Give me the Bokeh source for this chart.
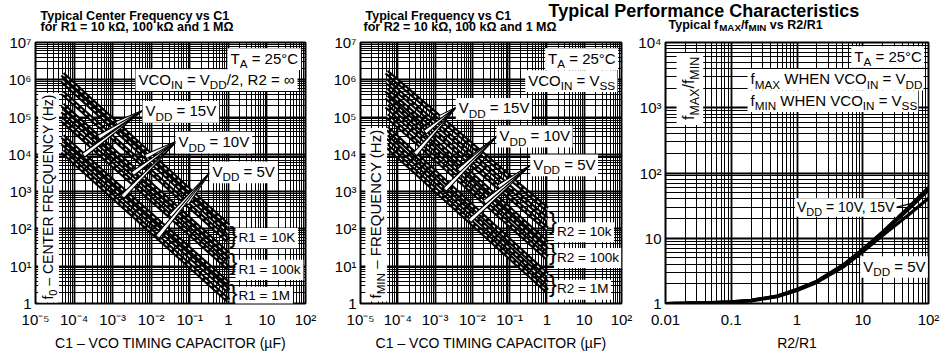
import math
import numpy as np
from bokeh.plotting import figure
from bokeh.models import Label, BoxAnnotation, FixedTicker, CustomJSTickFormatter, Range1d
from bokeh.layouts import row, column
from bokeh.embed import file_html
from bokeh.resources import INLINE

# ---------------------------------------------------------------- data
vdd_series = ["15V", "10V", "5V"]
c1_uF = [5e-5, 1.0]                      # C1 at start / end of each curve

# Panel 1: f0 (Hz) at C1 = 5e-5 uF and 1 uF ; rows = VDD 15 V, 10 V, 5 V
f0_R1_10k = [[1.4e6, 120], [9.5e5, 80], [4.5e5, 48]]
f0_R1_100k = [[2.1e5, 21], [1.45e5, 15], [8.3e4, 9]]
f0_R1_1M = [[3.0e4, 3.4], [2.0e4, 2.2], [1.2e4, 1.2]]

# Panel 2: fMIN (Hz) at C1 = 5e-5 uF and 1 uF ; rows = VDD 15 V, 10 V, 5 V
fmin_R2_10k = [[1.6e6, 340], [9.0e5, 180], [5.2e5, 100]]
fmin_R2_100k = [[3.4e5, 42], [1.95e5, 28], [1.1e5, 17]]
fmin_R2_1M = [[5.1e4, 5.9], [3.0e4, 3.6], [1.7e4, 2.2]]

# Panel 3: fMAX/fMIN vs R2/R1
r2_over_r1 = [0.01, 0.02, 0.05, 0.1, 0.2, 0.5, 1, 2, 5, 10, 20, 50, 100]
fratio_15V = [1.0, 1.01, 1.03, 1.06, 1.12, 1.3, 1.65, 2.2, 3.9, 6.8, 12.5, 30, 60]
fratio_10V = [1.0, 1.01, 1.03, 1.06, 1.12, 1.3, 1.62, 2.15, 3.8, 6.6, 12, 28, 55]
fratio_5V = [1.0, 1.01, 1.02, 1.05, 1.1, 1.27, 1.58, 2.1, 3.6, 6.2, 11, 23, 41]

# tick labels
c1_ticks = [1e-5, 1e-4, 1e-3, 1e-2, 1e-1, 1, 10, 100]
c1_tick_labels = ["10⁻⁵", "10⁻⁴", "10⁻³", "10⁻²", "10⁻¹", "1", "10", "10²"]
f_ticks = [1, 10, 1e2, 1e3, 1e4, 1e5, 1e6, 1e7]
f_tick_labels = ["1", "10¹", "10²", "10³", "10⁴", "10⁵", "10⁶", "10⁷"]
r_ticks = [0.01, 0.1, 1, 10, 100]
r_tick_labels = ["0.01", "0.1", "1", "10", "10²"]
ratio_ticks = [1, 10, 100, 1000, 10000]
ratio_tick_labels = ["1", "10", "10²", "10³", "10⁴"]

# ---------------------------------------------------------------- geometry / helpers
FONT = "Liberation Sans"
FIX = 0.27          # baseline correction (em) for alphabetic-anchored labels

RANGES = {1: ((-5, 2), (0, 7)), 2: ((-5, 2), (0, 7)), 3: ((-2, 2), (0, 4))}
FRAME = {1: (35, 305, 40, 303), 2: (358, 621, 42, 305), 3: (662, 928, 42, 308)}
FIG = {1: (0, 330), 2: (330, 305), 3: (635, 307)}
STRIP_H = 33
ROW_BOTTOM = 353
FIG_H = ROW_BOTTOM - STRIP_H

W_REG = {' ': 278, '=': 584, '/': 278, ',': 278, '.': 278, '(': 333, ')': 333, '°': 400,
         '∞': 713, '–': 556, '}': 334, 'µ': 556, 'Ω': 768,
         'A': 667, 'B': 667, 'C': 722, 'D': 722, 'E': 667, 'F': 611, 'G': 778, 'H': 722,
         'I': 278, 'J': 500, 'K': 667, 'L': 556, 'M': 833, 'N': 722, 'O': 778, 'P': 667,
         'Q': 778, 'R': 722, 'S': 667, 'T': 611, 'U': 722, 'V': 667, 'W': 944, 'X': 667,
         'Y': 667, 'Z': 611, 'a': 556, 'b': 556, 'c': 500, 'd': 556, 'e': 556, 'f': 278,
         'g': 556, 'h': 556, 'i': 222, 'j': 222, 'k': 500, 'l': 222, 'm': 833, 'n': 556,
         'o': 556, 'p': 556, 'q': 556, 'r': 333, 's': 500, 't': 278, 'u': 556, 'v': 500,
         'w': 722, 'x': 500, 'y': 500, 'z': 500}
W_BOLD = {' ': 278, '=': 584, '/': 278, ',': 278, 'Ω': 768, 'A': 722, 'C': 722, 'F': 611,
          'M': 833, 'R': 722, 'T': 611, 'X': 667, 'I': 278, 'N': 722, 'P': 667,
          'a': 556, 'c': 556, 'd': 611, 'e': 556, 'f': 333, 'h': 611, 'i': 278, 'k': 556,
          'l': 278, 'm': 889, 'n': 611, 'o': 611, 'p': 611, 'q': 611, 'r': 389, 's': 556,
          't': 333, 'u': 611, 'v': 556, 'y': 556}


def tw(s, size, bold=False):
    tbl = W_BOLD if bold else W_REG
    return sum(tbl.get(ch, 556) for ch in s) * size / 1000.0


def layout_pieces(pieces, size, bold=False, drop_em=0.3):
    """Split rich pieces into (text, font size, drop, offset); spaces become offsets."""
    items = []
    off = 0.0
    for text, kind in pieces:
        sub = kind == "s"
        sz = size * 0.78 if sub else size
        drop = drop_em * size if sub else 0.0
        lead = len(text) - len(text.lstrip(" "))
        start = off + tw(" " * lead, sz, bold)
        items.append((text.strip(" "), sz, drop, start))
        off += tw(text, sz, bold)
    return items, off


def px2data(P, px, py):
    x0, x1, y0, y1 = FRAME[P]
    (xl, xh), (yl, yh) = RANGES[P]
    lx = xl + (px - x0) / (x1 - x0) * (xh - xl)
    ly = yh - (py - y0) / (y1 - y0) * (yh - yl)
    return 10 ** lx, 10 ** ly


def ppd(P):
    x0, x1, y0, y1 = FRAME[P]
    (xl, xh), (yl, yh) = RANGES[P]
    return (x1 - x0) / (xh - xl), (y1 - y0) / (yh - yl)


def shift(P, x, y, dx, dy):
    px, py = ppd(P)
    return x * 10 ** (dx / px), y * 10 ** (dy / py)


def rich(p, P, x, y, pieces, size, bold=False, angle=0.0, box=True, pad=3):
    items, off = layout_pieces(pieces, size, bold)
    if box:
        if angle == 0:
            l, b = shift(P, x, y, -pad, -(0.32 * size + pad))
            r, t = shift(P, x, y, off + pad, 0.74 * size + pad)
        else:
            l, b = shift(P, x, y, -(0.74 * size + pad), -pad)
            r, t = shift(P, x, y, 0.32 * size + pad, off + pad)
        p.add_layout(BoxAnnotation(left=l, right=r, bottom=b, top=t, fill_color="white",
                                   fill_alpha=1.0, line_color=None))
    for text, sz, drop, o in items:
        if angle == 0:
            xo, yo = o, -drop + FIX * sz
        else:
            xo, yo = drop - FIX * sz, o
        p.add_layout(Label(x=x, y=y, x_offset=xo, y_offset=yo, text=text, angle=angle,
                           text_font=FONT, text_font_size=f"{sz:.2f}px",
                           text_font_style="bold" if bold else "normal",
                           text_color="black", text_align="left",
                           text_baseline="alphabetic"))
    return off


def minor_list(lo, hi):
    return [k * 10.0 ** e for e in range(lo, hi) for k in range(2, 10)]


def fmt(tvals, tlabels):
    return CustomJSTickFormatter(args=dict(tvals=tvals, tlabels=tlabels), code="""
        const lt = Math.log10(tick);
        for (let i = 0; i < tvals.length; i++) {
            if (Math.abs(lt - Math.log10(tvals[i])) < 1e-6) { return tlabels[i]; }
        }
        return "";
    """)


def make_fig(P, xticks, xlabels, yticks, ylabels, xlabel):
    (xl, xh), (yl, yh) = RANGES[P]
    fx, fw = FIG[P]
    x0, x1, y0, y1 = FRAME[P]
    p = figure(width=fw, height=FIG_H, x_axis_type="log", y_axis_type="log", title=None,
               x_range=Range1d(10.0 ** xl, 10.0 ** xh), y_range=Range1d(10.0 ** yl, 10.0 ** yh),
               toolbar_location=None, output_backend="svg",
               min_border_left=x0 - fx, min_border_right=fx + fw - x1,
               min_border_top=y0 - STRIP_H, min_border_bottom=ROW_BOTTOM - y1)
    xt = FixedTicker(ticks=xticks, minor_ticks=minor_list(xl, xh))
    yt = FixedTicker(ticks=yticks, minor_ticks=minor_list(yl, yh))
    p.xaxis.ticker = xt
    p.yaxis.ticker = yt
    p.xgrid.ticker = xt
    p.ygrid.ticker = yt
    p.xaxis.formatter = fmt(xticks, xlabels)
    p.yaxis.formatter = fmt(yticks, ylabels)
    for ax in (p.xaxis[0], p.yaxis[0]):
        ax.major_tick_out = 0
        ax.major_tick_in = 0
        ax.minor_tick_out = 0
        ax.minor_tick_in = 0
        ax.axis_line_color = None
        ax.major_label_text_font = FONT
        ax.major_label_text_font_size = "15px"
        ax.major_label_text_color = "black"
    p.xaxis.major_label_standoff = 7
    p.yaxis.major_label_standoff = 4
    p.xaxis.axis_label = xlabel
    p.xaxis.axis_label_text_font = FONT
    p.xaxis.axis_label_text_font_size = "14px"
    p.xaxis.axis_label_text_font_style = "normal"
    p.xaxis.axis_label_text_color = "black"
    p.xaxis.axis_label_standoff = 4
    for g in (p.xgrid[0], p.ygrid[0]):
        g.grid_line_color = "black"
        g.grid_line_width = 1.8
        g.grid_line_alpha = 1.0
        g.minor_grid_line_color = "black"
        g.minor_grid_line_width = 1.0
    p.outline_line_color = "black"
    p.outline_line_width = 2
    p.background_fill_color = "white"
    p.border_fill_color = "white"
    return p


def draw_family(p, groups):
    for grp in groups:
        for pair in grp:
            p.line(c1_uF, pair, line_color="black", line_width=5.5)
            p.line(c1_uF, pair, line_color="white", line_width=1.2, line_dash="3 3")


def curve_f(pair, c):
    return 10 ** np.interp(math.log10(c), np.log10(c1_uF), np.log10(pair))


def wedge(p, P, apex_px, tip_px, pair, half=2.2):
    ax, ay = px2data(P, *apex_px)
    tc = px2data(P, tip_px, 100)[0]
    tf = curve_f(pair, tc)
    px, py = ppd(P)
    A = np.array([math.log10(ax) * px, math.log10(ay) * py])
    T = np.array([math.log10(tc) * px, math.log10(tf) * py])
    d = T - A
    d = d / np.linalg.norm(d)
    n = np.array([-d[1], d[0]])
    pts = [A, T + n * half, T - n * half]
    xs = [10 ** (q[0] / px) for q in pts]
    ys = [10 ** (q[1] / py) for q in pts]
    p.patch(xs, ys, fill_color="white", line_color="black", line_width=1.1)


def brace(p, P, px_, grp, size=24):
    yc = 10 ** np.mean([math.log10(pair[1]) for pair in grp])
    x = px2data(P, px_, 100)[0]
    p.add_layout(Label(x=x, y=yc, text="}", text_font=FONT, text_font_size=f"{size}px",
                       text_color="black", text_align="left", text_baseline="middle",
                       y_offset=-1))


def vdd(p, P, px_, py_, volts, size=15, **kw):
    x, y = px2data(P, px_, py_)
    rich(p, P, x, y, [("V", "n"), ("DD", "s"), (" = " + volts, "n")], size, **kw)


def plain(p, P, px_, py_, pieces, size=15, **kw):
    x, y = px2data(P, px_, py_)
    return rich(p, P, x, y, pieces, size, **kw)


# ---------------------------------------------------------------- panel 1
p1 = make_fig(1, c1_ticks, c1_tick_labels, f_ticks, f_tick_labels,
              "C1 – VCO TIMING CAPACITOR (µF)")
groups1 = [f0_R1_10k, f0_R1_100k, f0_R1_1M]
draw_family(p1, groups1)
for apex, tips, k in [((143, 108), (116, 98, 83), 0),
                      ((177, 139), (145, 132, 122), 1),
                      ((211, 169), (186, 170, 157), 2)]:
    for grp, tx in zip(groups1, tips):
        wedge(p1, 1, apex, tx, grp[k])
plain(p1, 1, 230, 60, [("T", "n"), ("A", "s"), (" = 25°C", "n")])
plain(p1, 1, 138, 81, [("VCO", "n"), ("IN", "s"), (" = V", "n"), ("DD", "s"),
                       ("/2, R2 = ∞", "n")])
vdd(p1, 1, 145, 113, "15V")
vdd(p1, 1, 178, 144, "10V")
vdd(p1, 1, 212, 174, "5V")
for grp, py_, txt in [(f0_R1_10k, 240, "R1 = 10K"), (f0_R1_100k, 272, "R1 = 100k"),
                      (f0_R1_1M, 299, "R1 = 1M")]:
    plain(p1, 1, 238, py_, [(txt, "n")], size=13.5)
    brace(p1, 1, 229, grp)
plain(p1, 1, 51, 299, [("f", "n"), ("0", "s"), (" – CENTER FREQUENCY (Hz)", "n")],
      size=14, angle=math.pi / 2)

# ---------------------------------------------------------------- panel 2
p2 = make_fig(2, c1_ticks, c1_tick_labels, f_ticks, f_tick_labels,
              "C1 – VCO TIMING CAPACITOR (µF)")
groups2 = [fmin_R2_10k, fmin_R2_100k, fmin_R2_1M]
draw_family(p2, groups2)
for apex, tips, k in [((455, 107), (438, 423, 413), 0),
                      ((496, 136), (472, 457, 443), 1),
                      ((530, 165), (497, 483, 468), 2)]:
    for grp, tx in zip(groups2, tips):
        wedge(p2, 2, apex, tx, grp[k])
plain(p2, 2, 547, 62, [("T", "n"), ("A", "s"), (" = 25°C", "n")])
plain(p2, 2, 527, 84, [("VCO", "n"), ("IN", "s"), (" = V", "n"), ("SS", "s")])
vdd(p2, 2, 457, 112, "15V")
vdd(p2, 2, 498, 140, "10V")
vdd(p2, 2, 532, 169, "5V")
for grp, py_, txt in [(fmin_R2_10k, 236, "R2 = 10k"), (fmin_R2_100k, 262, "R2 = 100k"),
                      (fmin_R2_1M, 294, "R2 = 1M")]:
    plain(p2, 2, 556, py_, [(txt, "n")], size=13.5)
    brace(p2, 2, 548, grp)
plain(p2, 2, 377, 300, [("f", "n"), ("MIN", "s"), (" – FREQUENCY (Hz)", "n")],
      size=15, angle=math.pi / 2)

# ---------------------------------------------------------------- panel 3
p3 = make_fig(3, r_ticks, r_tick_labels, ratio_ticks, ratio_tick_labels, "R2/R1")
for ys in (fratio_5V, fratio_10V, fratio_15V):
    p3.line(r2_over_r1, ys, line_color="black", line_width=3.2)
sx, sy = px2data(3, 895, 210)
tx = px2data(3, 912, 100)[0]
ty = 10 ** np.interp(math.log10(tx), np.log10(r2_over_r1), np.log10(fratio_15V))
p3.segment(x0=[sx], y0=[sy], x1=[tx], y1=[ty], line_color="black", line_width=1.2)
plain(p3, 3, 853, 60, [("T", "n"), ("A", "s"), (" = 25°C", "n")])
plain(p3, 3, 748, 83, [("f", "n"), ("MAX", "s"), (" WHEN VCO", "n"), ("IN", "s"),
                       (" = V", "n"), ("DD", "s")])
plain(p3, 3, 748, 105, [("f", "n"), ("MIN", "s"), (" WHEN VCO", "n"), ("IN", "s"),
                        (" = V", "n"), ("SS", "s")])
vdd(p3, 3, 795, 213, "10V, 15V", size=14, pad=2)
vdd(p3, 3, 862, 274, "5V")
plain(p3, 3, 690, 121, [("f", "n"), ("MAX", "s"), ("/f", "n"), ("MIN", "s")], size=16,
      angle=math.pi / 2, pad=5)

# ---------------------------------------------------------------- title strip
strip = figure(width=942, height=STRIP_H, x_range=Range1d(0, 942), title=None,
               y_range=Range1d(0, STRIP_H), toolbar_location=None, output_backend="svg",
               x_axis_location=None, y_axis_location=None, min_border=0)
strip.grid.visible = False
strip.outline_line_color = None


def strip_text(x, baseline, pieces, size, drop_em=0.3):
    items, _ = layout_pieces(pieces, size, bold=True, drop_em=drop_em)
    for text, sz, drop, o in items:
        strip.add_layout(Label(x=x, y=STRIP_H - baseline, x_offset=o,
                               y_offset=-drop + FIX * sz,
                               text=text, text_font=FONT, text_font_size=f"{sz:.2f}px",
                               text_font_style="bold", text_color="black",
                               text_align="left", text_baseline="alphabetic"))


strip_text(548, 15, [("Typical Performance Characteristics", "n")], 18)
strip_text(40, 19, [("Typical Center Frequency vs C1", "n")], 12.5)
strip_text(40, 30, [("for R1 = 10 kΩ, 100 kΩ and 1 MΩ", "n")], 12.5)
strip_text(365, 19, [("Typical Frequency vs C1", "n")], 12.5)
strip_text(363, 30, [("for R2 = 10 kΩ, 100 kΩ and 1 MΩ", "n")], 12.5)
strip_text(668, 27.5, [("Typical f", "n"), ("MAX", "s"), ("/f", "n"), ("MIN", "s"),
                       (" vs R2/R1", "n")], 12.5, drop_em=0.2)

layout = column(strip, row(p1, p2, p3))
open("out.html", "w", encoding="utf-8").write(file_html(layout, INLINE))
